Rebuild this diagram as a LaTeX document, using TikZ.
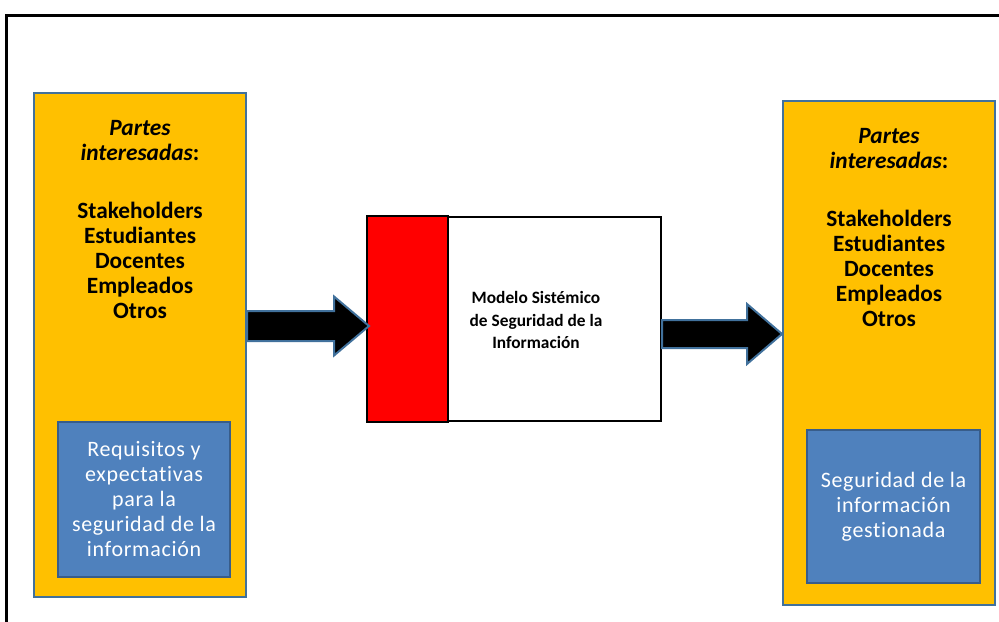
\documentclass[tikz,border=0pt]{standalone}
\usepackage{fontspec}
\setmainfont{Carlito}[Ligatures=NoCommon]
\usetikzlibrary{calc}
\definecolor{amarillo}{HTML}{FFC000}
\definecolor{azul}{HTML}{4F81BD}
\definecolor{bordeazul}{HTML}{41719C}
\definecolor{bordeoscuro}{HTML}{385D8A}
\definecolor{rojo}{HTML}{FF0000}
\tikzset{
  partes/.style = {draw=bordeazul, line width=1.5pt, fill=amarillo, minimum width=159pt, minimum height=378pt, inner sep=0pt},
  requisito/.style = {draw=bordeoscuro, line width=1.5pt, fill=azul, text=white, align=center, inner sep=0pt,
    font=\addfontfeatures{LetterSpace=3}\fontsize{16.5}{18.75}\selectfont},
  lista/.style = {align=center, inner sep=0pt, font=\bfseries\fontsize{17.5}{18.75}\selectfont},
  flecha/.style = {draw=bordeazul, line width=1.5pt, fill=black, line join=miter}
}
\newcommand{\flechabloque}[4]{% inicio, punta, medio cuerpo, media cabeza
  \filldraw[flecha] ($(#1)+(0,-#3)$) -- ($(#2)+(-35,-#3)$) -- ($(#2)+(-35,-#4)$) -- (#2)
    -- ($(#2)+(-35,#4)$) -- ($(#2)+(-35,#3)$) -- ($(#1)+(0,#3)$) -- cycle;}

\begin{document}
\begin{tikzpicture}[x=0.75pt, y=-0.75pt]
    \useasboundingbox (0,0) rectangle (999,621);
    \clip (0,0) rectangle (999,621);
    \draw[line width=2.25pt] (6,15) rectangle (1020,640);

    \node[partes] (izq) at (140,345) {};
    \node[partes] (der) at (889,353) {};
    \node[lista] (txtizq) at (140,219.5) {\textit{Partes}\\\textit{interesadas}:\\[24.75pt]
        Stakeholders\\Estudiantes\\Docentes\\Empleados\\Otros};
    \node[lista] (txtder) at (889,228) {\textit{Partes}\\\textit{interesadas}:\\[24.75pt]
        Stakeholders\\Estudiantes\\Docentes\\Empleados\\Otros};
    \node[requisito, minimum width=129pt, minimum height=116.25pt] (req) at (144,499.5)
        {Requisitos y\\expectativas\\para la\\seguridad de la\\información};
    \node[requisito, minimum width=129.75pt, minimum height=114.75pt] (seg) at (893.5,506.5)
        {Seguridad de la\\información\\gestionada};

    \node[draw, line width=1.5pt, fill=white, minimum width=219.75pt, minimum height=153pt, inner sep=0pt] (modelo) at (514.5,319) {};
    \draw[line width=1.5pt, fill=rojo] (modelo.north west) rectangle ($(modelo.south west)+(81,0)$);
    \node[align=center, inner sep=0pt, font=\bfseries\fontsize{13}{17}\selectfont] (titulo) at (536,320)
        {Modelo Sistémico\\de Seguridad de la\\Información};

    \coordinate (e1) at ($(izq.east)+(0,-19)$);
    \coordinate (p1) at ($(modelo.west)+(2,7)$);
    \coordinate (e2) at ($(modelo.east)+(0,15)$);
    \coordinate (p2) at ($(der.west)+(0,-19)$);
    \flechabloque{e1}{p1}{15}{29.5}
    \flechabloque{e2}{p2}{14}{30}
\end{tikzpicture}
\end{document}
